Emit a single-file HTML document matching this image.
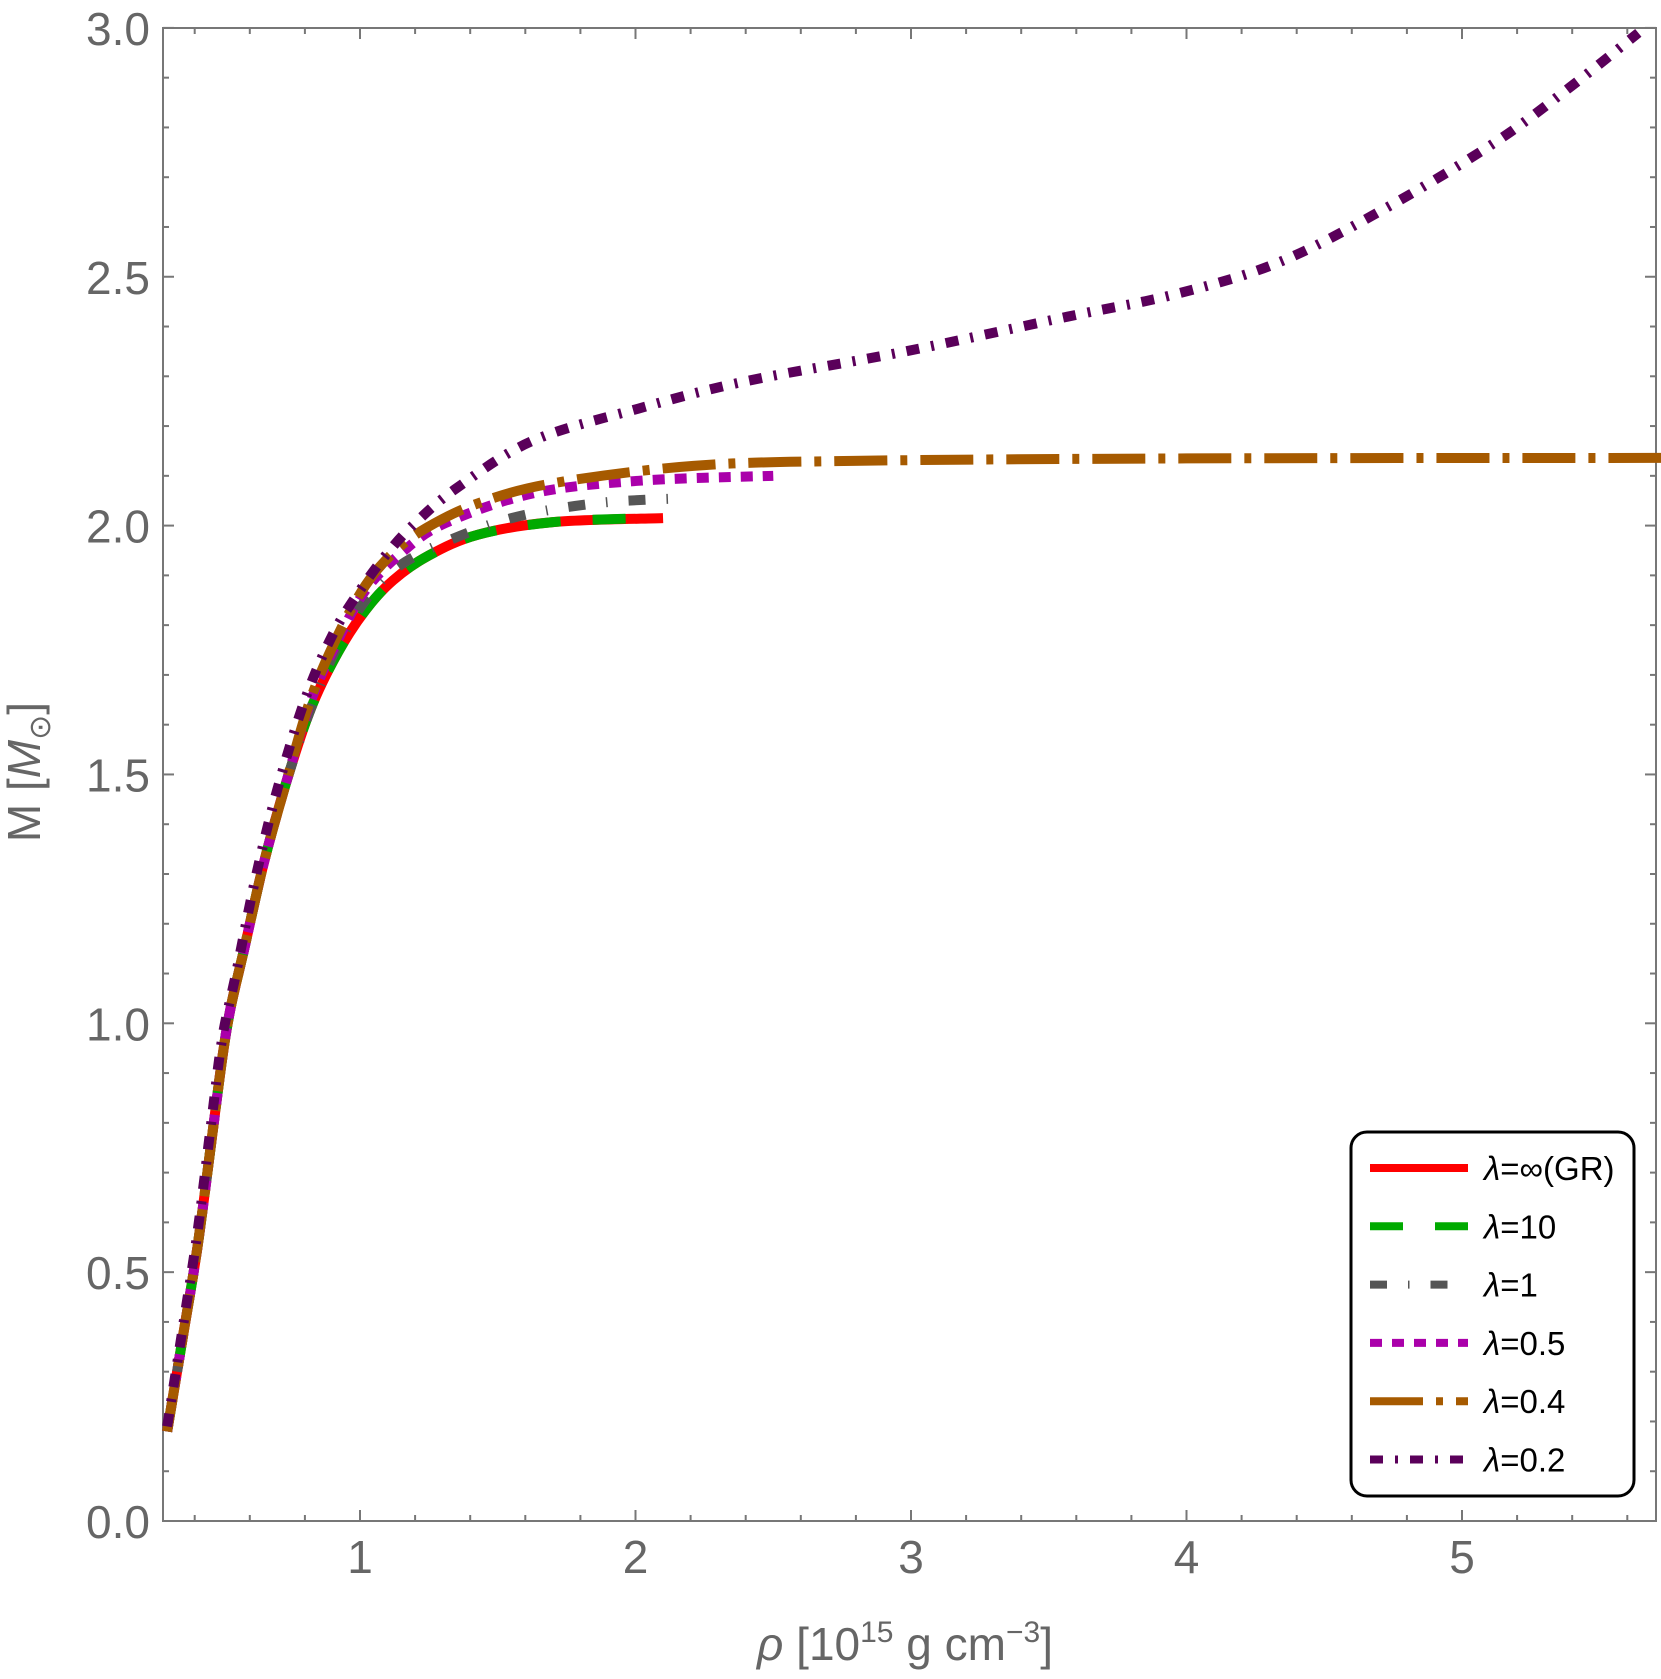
<!DOCTYPE html>
<html><head><meta charset="utf-8"><style>
body{margin:0;background:#fff;}
svg text{font-family:"Liberation Sans","DejaVu Sans",sans-serif;}
</style></head><body>
<svg id="s" width="1661" height="1674" xmlns="http://www.w3.org/2000/svg">
<g id="grid"></g>
<g id="curves" fill="none" stroke-linecap="butt" stroke-linejoin="round"></g>
<rect x="1351" y="1132" width="283" height="364" rx="16" fill="#fff" stroke="#000" stroke-width="3"/>
<g id="leg"></g>
<text x="40" y="772" font-size="46" fill="#666" text-anchor="middle" transform="rotate(-90 40 772)">M [<tspan font-style="italic">M</tspan><tspan font-size="30" dy="10">⊙</tspan><tspan dy="-10">]</tspan></text>
<text x="905" y="1660" font-size="46" fill="#666" text-anchor="middle"><tspan font-style="italic">ρ</tspan> [10<tspan font-size="30" dy="-18">15</tspan><tspan dy="18"> g cm</tspan><tspan font-size="30" dy="-18">−3</tspan><tspan dy="18">]</tspan></text>
</svg>
<script>
var NS="http://www.w3.org/2000/svg";
var L=163,R=1656,T=28,B=1521;
function X(x){return 84.5+275.5*x;}
function Y(y){return B-497.7*y;}
function el(p,tag,a,txt){var e=document.createElementNS(NS,tag);for(var k in a)e.setAttribute(k,a[k]);if(txt!==undefined)e.textContent=txt;document.getElementById(p).appendChild(e);return e;}
el("grid","rect",{x:L,y:T,width:R-L,height:B-T,fill:"none",stroke:"#777","stroke-width":2});
for(var i=0;i<=30;i++){var y=Y(i/10),len=(i%5==0)?11:6;
 el("grid","line",{x1:L,y1:y,x2:L+len,y2:y,stroke:"#777","stroke-width":2});
 el("grid","line",{x1:R,y1:y,x2:R-len,y2:y,stroke:"#777","stroke-width":2});
 if(i%5==0)el("grid","text",{x:150,y:y+17,"font-size":46,fill:"#666","text-anchor":"end"},(i/10).toFixed(1));}
for(var i=2;i<=28;i++){var x=X(i/5);if(x<L||x>R)continue;var len=(i%5==0)?11:6;
 el("grid","line",{x1:x,y1:B,x2:x,y2:B-len,stroke:"#777","stroke-width":2});
 el("grid","line",{x1:x,y1:T,x2:x,y2:T+len,stroke:"#777","stroke-width":2});
 if(i%5==0)el("grid","text",{x:x,y:1573,"font-size":46,fill:"#666","text-anchor":"middle"},String(i/5));}
function path(pts){var p=pts.map(function(q){return [X(q[0]),Y(q[1])];});var d="M"+p[0][0]+","+p[0][1];
 for(var i=0;i<p.length-1;i++){var p0=p[i-1]||p[i],p1=p[i],p2=p[i+1],p3=p[i+2]||p2;
  d+=" C"+(p1[0]+(p2[0]-p0[0])/6)+","+(p1[1]+(p2[1]-p0[1])/6)+" "+(p2[0]-(p3[0]-p1[0])/6)+","+(p2[1]-(p3[1]-p1[1])/6)+" "+p2[0]+","+p2[1];}
 return d;}
var base=[[0.30,0.18],[0.36,0.38],[0.41,0.55],[0.46,0.76],[0.50,0.93],[0.53,1.03],[0.58,1.15],[0.65,1.32],[0.73,1.48],[0.82,1.63],[0.92,1.745],[1.02,1.83],[1.12,1.89],[1.25,1.94]];
var red=base.concat([[1.43,1.982],[1.7,2.007],[2.1,2.015]]);
var green=base.concat([[1.43,1.982],[1.7,2.007],[2.03,2.015]]);
var gray=base.slice(0,10).concat([[0.92,1.76],[1.02,1.85],[1.12,1.91],[1.28,1.96],[1.55,2.015],[1.86,2.045],[2.17,2.055]]);
var mag=base.slice(0,9).concat([[0.82,1.645],[0.92,1.77],[1.02,1.87],[1.15,1.945],[1.31,2.005],[1.63,2.065],[2.01,2.09],[2.5,2.10]]);
var brn=base.slice(0,9).concat([[0.82,1.65],[0.92,1.78],[1.02,1.88],[1.12,1.945],[1.24,1.995],[1.43,2.045],[1.70,2.085],[2.21,2.12],[2.79,2.13],[4,2.135],[5.74,2.136]]);
var pur=[[0.30,0.19],[0.36,0.40],[0.41,0.58],[0.46,0.80],[0.50,0.97],[0.55,1.10],[0.62,1.29],[0.70,1.47],[0.80,1.65],[0.90,1.78],[1.0,1.87],[1.1,1.945],[1.2,2.005],[1.35,2.075],[1.625,2.17],[2.01,2.235],[2.40,2.29],[2.98,2.35],[3.57,2.42],[3.96,2.465],[4.34,2.53],[4.73,2.64],[5.12,2.77],[5.39,2.88],[5.64,2.99]];
var S=[["#ff0000",red,"none"],["#00aa00",green,"33 32"],["#555555",gray,"17 21 1.5 21"],["#aa00aa",mag,"12 10"],["#a65a00",brn,"53 13 7 13"],["#5a005a",pur,"13 12 3 12"]];
S.forEach(function(s){el("curves","path",{d:path(s[1]),stroke:s[0],"stroke-width":10,"stroke-dasharray":s[2]});});
var labs=["λ=∞(GR)","λ=10","λ=1","λ=0.5","λ=0.4","λ=0.2"];
S.forEach(function(s,i){var y=1168+i*58.3;
 el("leg","line",{x1:1370,y1:y,x2:1468,y2:y,stroke:s[0],"stroke-width":8,"stroke-dasharray":s[2]});
 var t=el("leg","text",{x:1484,y:y+12,"font-size":33,fill:"#000"});
 var a=document.createElementNS(NS,"tspan");a.setAttribute("font-style","italic");a.textContent="λ";t.appendChild(a);
 var b=document.createElementNS(NS,"tspan");b.textContent=labs[i].slice(1);t.appendChild(b);});
</script>
</body></html>
